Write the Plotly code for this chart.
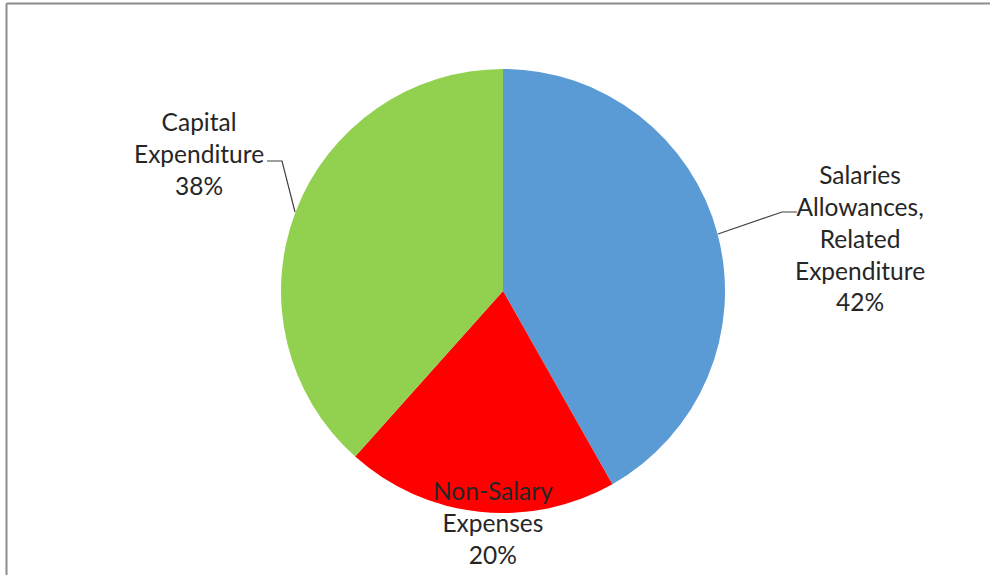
import plotly.graph_objects as go

categories = ["Salaries Allowances, Related Expenditure", "Non-Salary Expenses", "Capital Expenditure"]
label_lines = [["Salaries", "Allowances,", "Related", "Expenditure"], ["Non-Salary", "Expenses"], ["Capital", "Expenditure"]]
values = [41.8, 19.8, 38.4]
colors = ["#5B9BD5", "#FF0000", "#92D050"]

W, H = 990, 575
def px(x):
    return x / W
def py(y):
    return 1 - y / H

fig = go.Figure()
fig.add_trace(go.Pie(
    labels=categories, values=values, sort=False, direction="clockwise", rotation=0,
    marker=dict(colors=colors, line=dict(width=0)),
    textinfo="none", hoverinfo="label+percent", showlegend=False,
    domain=dict(x=[px(281), px(725)], y=[py(513), py(69)]),
))

total = sum(values)
label_pos = [(860, 238), (493, 522), (199, 153)]
for lines, v, (x, y) in zip(label_lines, values, label_pos):
    txt = "<br>".join(lines + [f"{round(100 * v / total)}%"])
    fig.add_annotation(x=px(x), y=py(y), xref="paper", yref="paper", text=txt, showarrow=False,
                       xanchor="center", yanchor="middle", align="center",
                       font=dict(family="Lato", size=24.5, color="#262626"))

leaders = [[(718, 234), (782, 212), (797, 212)], [(267, 161), (282, 161), (295, 212)]]
for pts in leaders:
    path = "M " + " L ".join(f"{px(a)},{py(b)}" for a, b in pts)
    fig.add_shape(type="path", path=path, xref="paper", yref="paper", line=dict(color="#404040", width=1.2))

fig.add_shape(type="line", xref="paper", yref="paper", x0=px(6.5), y0=py(3.5), x1=1, y1=py(3.5), line=dict(color="#8c8c8c", width=2))
fig.add_shape(type="line", xref="paper", yref="paper", x0=px(6.5), y0=py(3.5), x1=px(6.5), y1=0, line=dict(color="#8c8c8c", width=2))

fig.update_layout(width=W, height=H, margin=dict(l=0, r=0, t=0, b=0),
                  paper_bgcolor="white", plot_bgcolor="white")
fig.write_html("out.html")
